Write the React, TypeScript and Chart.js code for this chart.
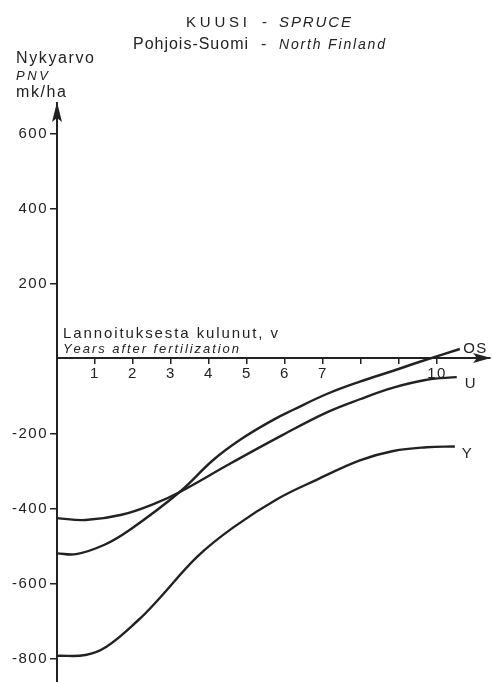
import { useEffect, useRef } from "react";
import { Chart, registerables } from "chart.js";

Chart.register(...registerables);

// ---- data ----
const X_TICKS = [1, 2, 3, 4, 5, 6, 7, 8, 9, 10];
const X_TICK_LABELS = ["1", "2", "3", "4", "5", "6", "7", "", "", "10"];
const Y_TICKS = [600, 400, 200, -200, -400, -600, -800];

const SERIES_NAMES = ["OS", "U", "Y"];

const OS_X = [0, 0.5, 1.25, 1.92, 3.22, 4.11, 4.82, 5.69, 6.22, 7.1, 7.97, 8.85, 9.55, 10.6];
const OS_Y = [-520, -522, -497, -457, -357, -271, -217, -164, -137, -95, -62, -33, -9, 25];

const U_X = [0, 0.75, 1.7, 2.6, 3.22, 4.55, 5.87, 7.1, 7.97, 8.85, 9.73, 10.52];
const U_Y = [-426, -431, -417, -386, -357, -281, -208, -144, -109, -78, -57, -50];

const Y_X = [0, 0.75, 1.3, 2.15, 2.65, 3.7, 4.65, 5.8, 6.83, 7.97, 8.85, 9.73, 10.47];
const Y_Y = [-793, -791, -769, -697, -645, -528, -450, -375, -324, -272, -247, -237, -235];

const TITLE_FI = "KUUSI";
const TITLE_EN = "SPRUCE";
const SUBTITLE_FI = "Pohjois-Suomi";
const SUBTITLE_EN = "North Finland";
const SEP = "-";
const Y_TITLE_1 = "Nykyarvo";
const Y_TITLE_2 = "PNV";
const Y_TITLE_3 = "mk/ha";
const X_TITLE_FI = "Lannoituksesta kulunut, v";
const X_TITLE_EN = "Years after fertilization";

// ---- style ----
const INK = "#222";
const FONT = "Liberation Sans";
const X_MIN = 0;
const X_MAX = 11.395;
const Y_MIN = -863;
const Y_MAX = 681;
// label offsets from line end (px)
const LABEL_OFFSETS = [
  { dx: 3.5, dy: -1 },
  { dx: 8, dy: 6 },
  { dx: 7, dy: 6.5 },
];

function drawFit(
  ctx: CanvasRenderingContext2D,
  text: string,
  x: number,
  y: number,
  font: string,
  width?: number
) {
  ctx.font = font;
  const chars = Array.from(text);
  const widths = chars.map((c) => ctx.measureText(c).width);
  const natural = widths.reduce((a, b) => a + b, 0);
  const sp =
    width !== undefined && chars.length > 1
      ? (width - natural) / (chars.length - 1)
      : 0;
  let cx = x;
  chars.forEach((c, i) => {
    ctx.fillText(c, cx, y);
    cx += widths[i] + sp;
  });
}

const decorPlugin = {
  id: "decor",
  beforeDraw(chart: any) {
    try {
      (chart.ctx as any).letterSpacing = "1.5px";
    } catch (e) {}
  },
  afterDraw(chart: any) {
    const ctx: CanvasRenderingContext2D = chart.ctx;
    const xs = chart.scales.x;
    const ys = chart.scales.y;
    const area = chart.chartArea;
    const x0 = Math.round(xs.getPixelForValue(0));
    const y0 = Math.round(ys.getPixelForValue(0));
    ctx.save();
    try {
      (ctx as any).letterSpacing = "0px";
    } catch (e) {}
    ctx.fillStyle = INK;
    ctx.textBaseline = "alphabetic";
    ctx.textAlign = "left";

    // y axis arrow
    const top = area.top;
    ctx.beginPath();
    ctx.moveTo(x0, top - 1);
    ctx.lineTo(x0 - 5, top + 19);
    ctx.lineTo(x0, top + 15);
    ctx.lineTo(x0 + 5, top + 19);
    ctx.closePath();
    ctx.fill();

    // x axis arrow
    const right = area.right;
    ctx.beginPath();
    ctx.moveTo(right + 1, y0);
    ctx.lineTo(right - 17, y0 - 5);
    ctx.lineTo(right - 13, y0);
    ctx.lineTo(right - 17, y0 + 5);
    ctx.closePath();
    ctx.fill();

    // titles
    drawFit(ctx, TITLE_FI, 186, 27, `15px "${FONT}"`, 61);
    drawFit(ctx, SEP, 262, 27, `15px "${FONT}"`);
    drawFit(ctx, TITLE_EN, 279, 27, `italic 15px "${FONT}"`, 72);
    drawFit(ctx, SUBTITLE_FI, 133, 49, `16px "${FONT}"`, 115);
    drawFit(ctx, SEP, 261, 49, `16px "${FONT}"`);
    drawFit(ctx, SUBTITLE_EN, 279, 49, `italic 14px "${FONT}"`, 106);

    // y title
    drawFit(ctx, Y_TITLE_1, 16, 63, `16px "${FONT}"`, 78);
    drawFit(ctx, Y_TITLE_2, 16, 80, `italic 13px "${FONT}"`, 32);
    drawFit(ctx, Y_TITLE_3, 16, 97, `16px "${FONT}"`, 50);

    // x title
    drawFit(ctx, X_TITLE_FI, 63, 338, `15px "${FONT}"`, 215);
    drawFit(ctx, X_TITLE_EN, 63, 353, `italic 13px "${FONT}"`, 176);

    // series labels at line ends
    chart.data.datasets.forEach((ds: any, i: number) => {
      const last = ds.data[ds.data.length - 1];
      const px = xs.getPixelForValue(last.x) + LABEL_OFFSETS[i].dx;
      const py = ys.getPixelForValue(last.y) + LABEL_OFFSETS[i].dy;
      drawFit(ctx, ds.label, px, py + 5, `15px "${FONT}"`, ds.label.length > 1 ? 23 : undefined);
    });

    ctx.restore();
  },
};

export default function App() {
  const ref = useRef<HTMLCanvasElement | null>(null);

  useEffect(() => {
    if (!ref.current) return;
    Chart.defaults.font.family = FONT;
    const seriesX = [OS_X, U_X, Y_X];
    const seriesY = [OS_Y, U_Y, Y_Y];
    const datasets = SERIES_NAMES.map((name, i) => ({
      label: name,
      data: seriesX[i].map((x, j) => ({ x, y: seriesY[i][j] })),
      borderColor: INK,
      borderWidth: 2.4,
      pointRadius: 0,
      fill: false,
      tension: 0.4,
      clip: false as any,
    }));

    const chart = new Chart(ref.current, {
      type: "line",
      data: { datasets },
      options: {
        animation: false,
        responsive: false,
        devicePixelRatio: 1,
        layout: { padding: { top: 103, right: 2, bottom: 0, left: 0 } },
        plugins: {
          legend: { display: false },
          tooltip: { enabled: false },
          title: { display: false },
        },
        events: [],
        scales: {
          x: {
            type: "linear",
            min: X_MIN,
            max: X_MAX,
            position: { y: 0 } as any,
            afterBuildTicks: (scale: any) => {
              scale.ticks = X_TICKS.map((v) => ({ value: v }));
            },
            afterFit: (scale: any) => {
              scale.paddingLeft = 0;
              scale.paddingRight = 0;
            },
            grid: {
              drawOnChartArea: false,
              drawTicks: true,
              tickLength: 5,
              tickColor: INK,
              tickWidth: 1.5,
              color: INK,
              lineWidth: 1.5,
            },
            border: { display: true, color: INK, width: 2 },
            ticks: {
              color: INK,
              padding: 1,
              font: { size: 15, family: FONT },
              maxRotation: 0,
              autoSkip: false,
              callback: (_v: any, i: number) => X_TICK_LABELS[i],
            },
          },
          y: {
            type: "linear",
            min: Y_MIN,
            max: Y_MAX,
            position: "left",
            afterBuildTicks: (scale: any) => {
              scale.ticks = Y_TICKS.map((v) => ({ value: v }));
            },
            afterFit: (scale: any) => {
              scale.width = 57;
              scale.paddingTop = 0;
              scale.paddingBottom = 0;
            },
            grid: {
              drawOnChartArea: false,
              drawTicks: true,
              tickLength: 7,
              tickColor: INK,
              tickWidth: 1.5,
              color: INK,
              lineWidth: 1.5,
            },
            border: { display: true, color: INK, width: 2 },
            ticks: {
              color: INK,
              padding: 2,
              font: { size: 15, family: FONT },
              autoSkip: false,
              callback: (v: any) => String(v),
            },
          },
        },
      },
      plugins: [decorPlugin],
    });
    return () => chart.destroy();
  }, []);

  return (
    <div
      style={{
        position: "fixed",
        left: 0,
        top: 0,
        width: 492,
        height: 682,
        background: "#fff",
      }}
    >
      <canvas ref={ref} width={492} height={682} style={{ display: "block" }} />
    </div>
  );
}
